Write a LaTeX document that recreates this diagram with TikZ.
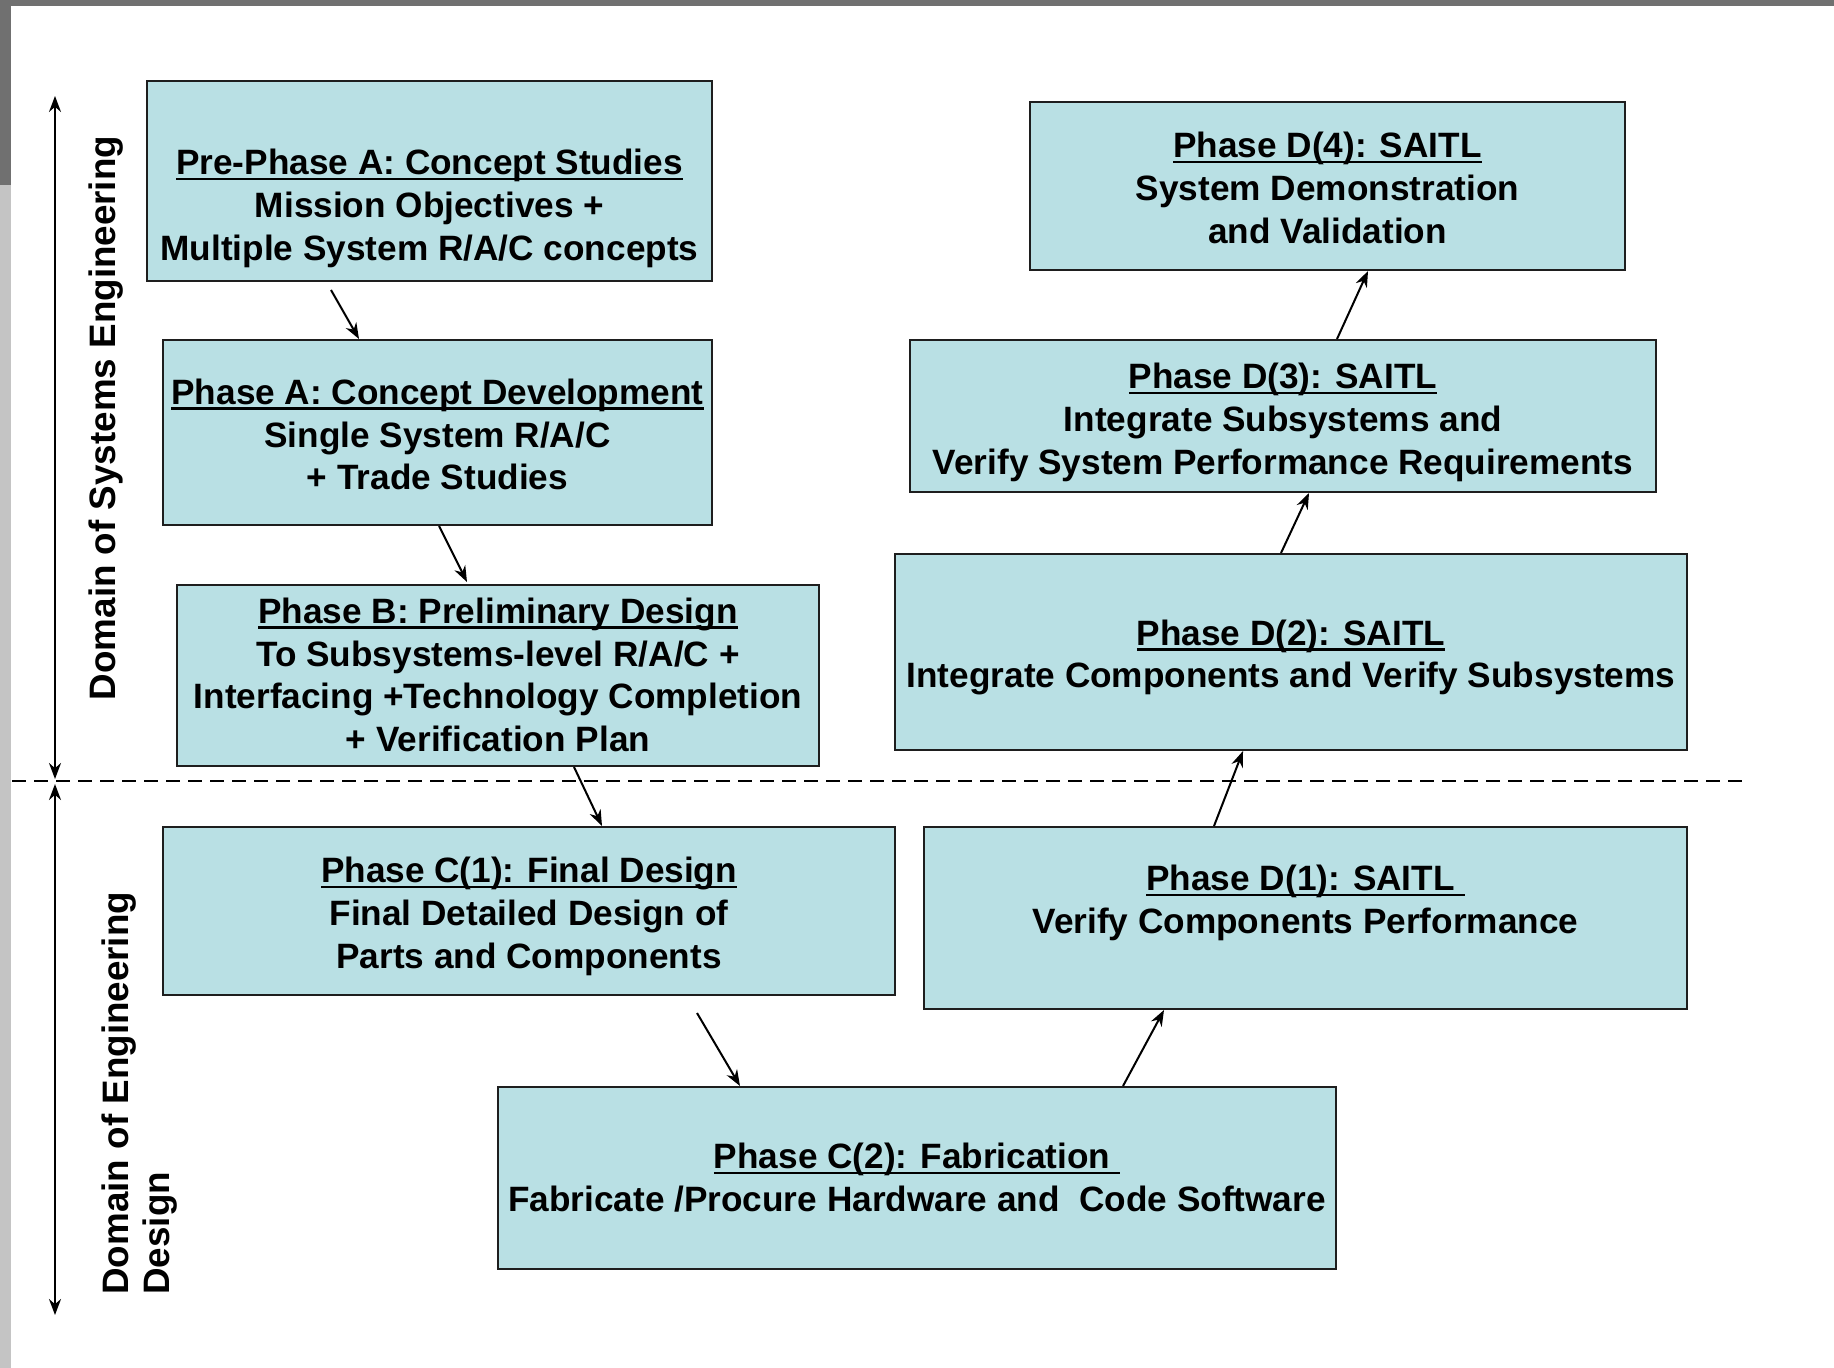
\documentclass[tikz,border=0pt]{standalone}
\usepackage{fontspec}
\setmainfont{Liberation Sans}
\usetikzlibrary{arrows.meta}
\definecolor{boxfill}{RGB}{185,224,228}
\definecolor{edgecol}{RGB}{30,30,30}
\definecolor{framegray}{RGB}{112,112,112}
\definecolor{lightframe}{RGB}{196,196,196}
\newcommand\myul[1]{\setbox0\hbox{#1}\rlap{\rule[-2.8pt]{\wd0}{1.3pt}}\box0}
\newcommand\boxtext[2]{\raisebox{#1}[\height][\depth]{\begin{tabular}{@{}c@{}}#2\end{tabular}}}
\begin{document}
\begin{tikzpicture}[x=0.5pt,y=-0.5pt,
  pbox/.style={draw=edgecol, line width=1pt, fill=boxfill, inner sep=0pt, align=center,
    font=\fontsize{17.6}{21.4}\selectfont\bfseries},
  conn/.style={-{Stealth[length=8pt,width=6pt]}, line width=1pt},
  domarrow/.style={{Stealth[length=8pt,width=6pt]}-{Stealth[length=8pt,width=6pt]}, line width=1pt},
  lab/.style={inner sep=0pt, font=\fontsize{18.4}{20.5}\selectfont\bfseries},
  divider/.style={line width=1pt, dash pattern=on 7pt off 4pt}]
\useasboundingbox (0,0) rectangle (1834,1368);
\fill[white] (0,0) rectangle (1834,1368);
\fill[framegray] (0,0) rectangle (1834,6.5);
\fill[lightframe] (0,0) rectangle (11,1368);
\fill[framegray] (0,0) rectangle (11,185);

% boxes
\node[pbox, minimum width=282.5pt, minimum height=100pt] (pa) at (429.5,181)
  {\boxtext{-14pt}{\myul{Pre-Phase A: Concept Studies}\\Mission Objectives +\\Multiple System R/A/C concepts}};
\node[pbox, minimum width=274.5pt, minimum height=92.5pt] (a) at (437.5,432.5)
  {\boxtext{-3pt}{\myul{Phase A: Concept Development}\\Single System R/A/C\\+ Trade Studies}};
\node[pbox, minimum width=321pt, minimum height=90.5pt] (b) at (498,675.5)
  {\boxtext{-1.75pt}{\myul{Phase B: Preliminary Design}\\To Subsystems-level R/A/C +\\Interfacing +Technology Completion\\+ Verification Plan}};
\node[pbox, minimum width=366pt, minimum height=84pt] (c1) at (529,911)
  {\boxtext{-3pt}{\myul{Phase C(1): Final Design}\\Final Detailed Design of\\Parts and Components}};
\node[pbox, minimum width=419pt, minimum height=91pt] (c2) at (917,1178)
  {\boxtext{-1.75pt}{\myul{Phase C(2): Fabrication\ }\\Fabricate /Procure Hardware and\ \ Code Software}};
\node[pbox, minimum width=381.5pt, minimum height=91pt] (d1) at (1305.5,918)
  {\boxtext{-3.5pt}{\myul{Phase D(1): SAITL\ }\\Verify Components Performance\\\mbox{}}};
\node[pbox, minimum width=396pt, minimum height=98pt] (d2) at (1291,652)
  {\boxtext{-3pt}{\myul{Phase D(2): SAITL}\\Integrate Components and Verify Subsystems}};
\node[pbox, minimum width=373pt, minimum height=76pt] (d3) at (1283,416)
  {\boxtext{-3.5pt}{\myul{Phase D(3): SAITL}\\Integrate Subsystems and\\Verify System Performance Requirements}};
\node[pbox, minimum width=297.5pt, minimum height=84pt] (d4) at (1327.5,186)
  {\boxtext{-3pt}{\myul{Phase D(4): SAITL}\\System Demonstration\\and Validation}};

% connectors
\draw[conn] ([xshift=-49.25pt,yshift=-4pt]pa.south) -- ([xshift=-39.25pt]a.north);
\draw[conn] ([xshift=0.75pt]a.south) -- ([xshift=-15.5pt,yshift=1pt]b.north);
\draw[conn] ([xshift=38pt]b.south) -- ([xshift=36.5pt]c1.north);
\draw[conn] ([xshift=84pt,yshift=-8.5pt]c1.south) -- ([xshift=-88.5pt]c2.north);
\draw[conn] ([xshift=103pt]c2.north) -- ([xshift=-70.75pt]d1.south);
\draw[conn] ([xshift=-45.75pt]d1.north) -- ([xshift=-24pt]d2.south);
\draw[conn] ([xshift=-5pt]d2.north) -- ([xshift=13pt]d3.south);
\draw[conn] ([xshift=27pt]d3.north) -- ([xshift=20.25pt]d4.south);

% domain divider and arrows
\coordinate (dl) at (12,781);
\coordinate (dr) at (1745,781);
\draw[divider] (dl) -- (dr);
\coordinate (s1) at (55,96);
\coordinate (s2) at (55,779);
\coordinate (e1) at (55,784);
\coordinate (e2) at (55,1315);
\draw[domarrow] (s1) -- (s2);
\draw[domarrow] (e1) -- (e2);

\node[lab, rotate=90] (l1) at (106,418) {Domain of Systems Engineering};
\node[lab, rotate=90, anchor=west, align=left] (l2) at (140,1295) {Domain of Engineering\\Design};
\end{tikzpicture}
\end{document}
